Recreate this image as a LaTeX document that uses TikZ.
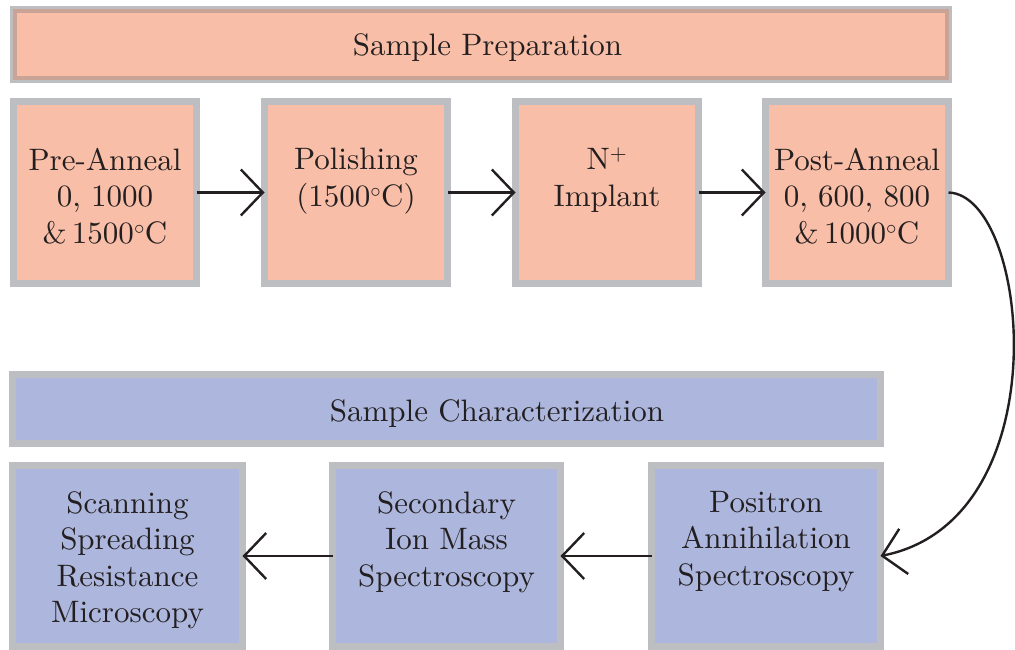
\documentclass[tikz,border=0pt]{standalone}
\usepackage{fontspec}
\setmainfont{lmroman10-regular}[Extension=.otf]
\usetikzlibrary{arrows.meta}
\definecolor{salmonfill}{HTML}{F9BEA7}
\definecolor{bluefill}{HTML}{ADB7DD}
\definecolor{bgrey}{HTML}{BDBEC2}
\definecolor{brownl}{HTML}{C9A396}
\definecolor{txtcol}{HTML}{231F20}
\begin{document}
\begin{tikzpicture}[x=1pt,y=1pt,
  frame/.style={draw=bgrey,line width=7pt,inner sep=0pt,outer sep=0pt},
  pbox/.style={frame,fill=salmonfill,minimum width=183pt,minimum height=182pt},
  cbox/.style={frame,fill=bluefill,minimum height=181pt},
  phdr/.style={frame,fill=salmonfill,minimum width=935pt,minimum height=70pt},
  chdr/.style={frame,fill=bluefill,minimum width=868pt,minimum height=69pt},
  txt/.style={font=\fontsize{31}{36.5}\selectfont,align=center,inner sep=0pt,text=txtcol},
  flow/.style={line width=2.4pt,draw=txtcol,-{Straight Barb[length=22pt,width=46pt]}}]
\useasboundingbox (0,0) rectangle (1015,-650);
% headers
\node[phdr] (prep) at (481,-44.5) {};
\draw[brownl,line width=4pt] ([shift={(1.5,-1.5)}]prep.north west) rectangle ([shift={(-1.5,1.5)}]prep.south east);
\node[txt,anchor=base] (preptxt) at (487.5,-56) {Sample Preparation};
\node[chdr] (char) at (446.5,-409) {};
\node[txt,anchor=base] (chartxt) at (497,-421) {Sample Characterization};
% top boxes
\node[pbox] (b1) at (105,-192.5) {};
\node[pbox] (b2) at (356,-192.5) {};
\node[pbox] (b3) at (607,-192.5) {};
\node[pbox] (b4) at (857,-192.5) {};
\node[txt,anchor=north] (t1) at (105,-148) {Pre-Anneal\\0, 1000\\\&\,1500$^\circ$C};
\node[txt,anchor=north] (t2) at (356,-148) {Polishing\\(1500$^\circ$C)};
\node[txt,anchor=north] (t3) at (607,-148) {N\textsuperscript{+}\\Implant};
\node[txt,anchor=north] (t4) at (857,-148) {Post-Anneal\\0, 600, 800\\\&\,1000$^\circ$C};
% bottom boxes
\node[cbox,minimum width=230pt] (c1) at (127.5,-556) {};
\node[cbox,minimum width=228pt] (c2) at (446.5,-556) {};
\node[cbox,minimum width=229pt] (c3) at (766,-556) {};
\node[txt,anchor=north] (s1) at (127.5,-491) {Scanning\\Spreading\\Resistance\\Microscopy};
\node[txt,anchor=north] (s2) at (446.5,-491) {Secondary\\Ion Mass\\Spectroscopy};
\node[txt,anchor=north] (s3) at (766,-491) {Positron\\Annihilation\\Spectroscopy};
% connectors
\draw[flow] (b1.east) -- (b2.west);
\draw[flow] (b2.east) -- (b3.west);
\draw[flow] (b3.east) -- (b4.west);
\draw[flow] (b4.east) .. controls (1030,-195) and (1062,-520) .. (c3.east);
\draw[flow] (c3.west) -- (c2.east);
\draw[flow] (c2.west) -- (c1.east);
\end{tikzpicture}
\end{document}
